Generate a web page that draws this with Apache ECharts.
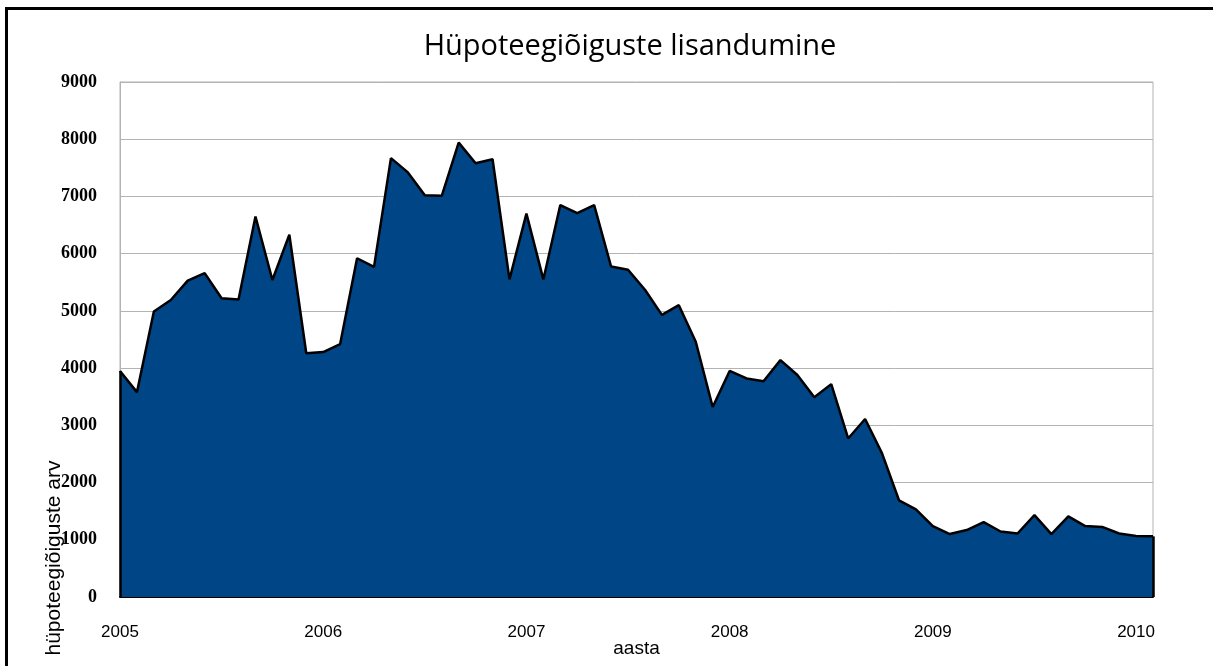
<!DOCTYPE html>
<html>
<head>
<meta charset="utf-8">
<script src="https://cdn.jsdelivr.net/npm/echarts@6/dist/echarts.min.js"></script>
<style>html,body{margin:0;padding:0;background:#fff}#c{width:1213px;height:666px}</style>
</head>
<body>
<div id="c"></div>
<script>
const categories = [
  '2005-01','2005-02','2005-03','2005-04','2005-05','2005-06','2005-07','2005-08','2005-09','2005-10','2005-11','2005-12',
  '2006-01','2006-02','2006-03','2006-04','2006-05','2006-06','2006-07','2006-08','2006-09','2006-10','2006-11','2006-12',
  '2007-01','2007-02','2007-03','2007-04','2007-05','2007-06','2007-07','2007-08','2007-09','2007-10','2007-11','2007-12',
  '2008-01','2008-02','2008-03','2008-04','2008-05','2008-06','2008-07','2008-08','2008-09','2008-10','2008-11','2008-12',
  '2009-01','2009-02','2009-03','2009-04','2009-05','2009-06','2009-07','2009-08','2009-09','2009-10','2009-11','2009-12',
  '2010-01','2010-02'
];
const values = [
  3950, 3580, 4990, 5190, 5530, 5660, 5220, 5200, 6650, 5540, 6330, 4260,
  4280, 4420, 5920, 5770, 7670, 7420, 7020, 7010, 7940, 7580, 7650, 5550,
  6700, 5550, 6850, 6710, 6850, 5775, 5720, 5370, 4930, 5100, 4460, 3320,
  3950, 3820, 3770, 4140, 3880, 3490, 3720, 2770, 3110, 2510, 1690, 1530,
  1240, 1100, 1170, 1310, 1145, 1110, 1430, 1100, 1410, 1240, 1225, 1110,
  1065, 1060
];
const yTicks = [0, 1000, 2000, 3000, 4000, 5000, 6000, 7000, 8000, 9000];
const titleText = 'Hüpoteegiõiguste lisandumine';
const xName = 'aasta';
const yName = 'hüpoteegiõiguste arv';

const chart = echarts.init(document.getElementById('c'), null, {renderer: 'canvas'});
const last = categories.length - 1;
chart.setOption({
  animation: false,
  backgroundColor: '#ffffff',
  title: {
    text: titleText,
    left: 625,
    textAlign: 'center',
    top: 27,
    textStyle: {fontFamily: 'Open Sans', fontSize: 29, fontWeight: 'normal', color: '#000'}
  },
  grid: {left: 120, right: 60, top: 82, bottom: 69, show: true, borderColor: '#b3b3b3', borderWidth: 1,
    containLabel: false, outerBoundsMode: 'none'},
  xAxis: {
    type: 'category',
    data: categories,
    boundaryGap: false,
    name: xName,
    nameLocation: 'middle',
    nameGap: 42,
    nameMoveOverlap: false,
    nameTextStyle: {fontFamily: 'Liberation Sans', fontSize: 19, color: '#000'},
    axisLine: {show: true, lineStyle: {color: '#000', width: 2}},
    axisTick: {show: false},
    splitLine: {show: false},
    axisLabel: {
      interval: 11,
      margin: 27,
      fontFamily: 'Liberation Sans',
      fontSize: 17,
      color: '#000',
      formatter: v => v.slice(0, 4)
    }
  },
  yAxis: {
    type: 'value',
    min: yTicks[0],
    max: yTicks[yTicks.length - 1],
    interval: 1000,
    axisLine: {show: true, lineStyle: {color: '#b3b3b3', width: 1}},
    axisTick: {show: false},
    splitLine: {show: true, lineStyle: {color: '#b3b3b3', width: 1}},
    axisLabel: {margin: 23, fontFamily: 'Liberation Serif', fontWeight: 'bold', fontSize: 18, color: '#000',
      formatter: v => String(v)}
  },
  graphic: [
    {type: 'rect', silent: true, z: 100, shape: {x: 6.5, y: 8.5, width: 1400, height: 800},
     style: {fill: 'none', stroke: '#000', lineWidth: 3}},
    {type: 'text', silent: true, z: 100, x: 54, y: 558, rotation: Math.PI / 2,
     style: {text: yName, fontFamily: 'Liberation Sans', fontSize: 21, fill: '#000', align: 'center', verticalAlign: 'middle'}}
  ],
  series: [{
    type: 'line',
    data: values,
    symbol: 'none',
    lineStyle: {color: '#000', width: 2.5},
    areaStyle: {color: '#004586', opacity: 1},
    z: 3,
    markLine: {
      silent: true,
      symbol: ['none', 'none'],
      label: {show: false},
      lineStyle: {color: '#000', width: 2.5, type: 'solid'},
      data: [
        [{coord: [categories[0], 0]}, {coord: [categories[0], values[0]]}],
        [{coord: [categories[last], 0]}, {coord: [categories[last], values[last]]}]
      ]
    }
  }]
});
</script>
</body>
</html>
